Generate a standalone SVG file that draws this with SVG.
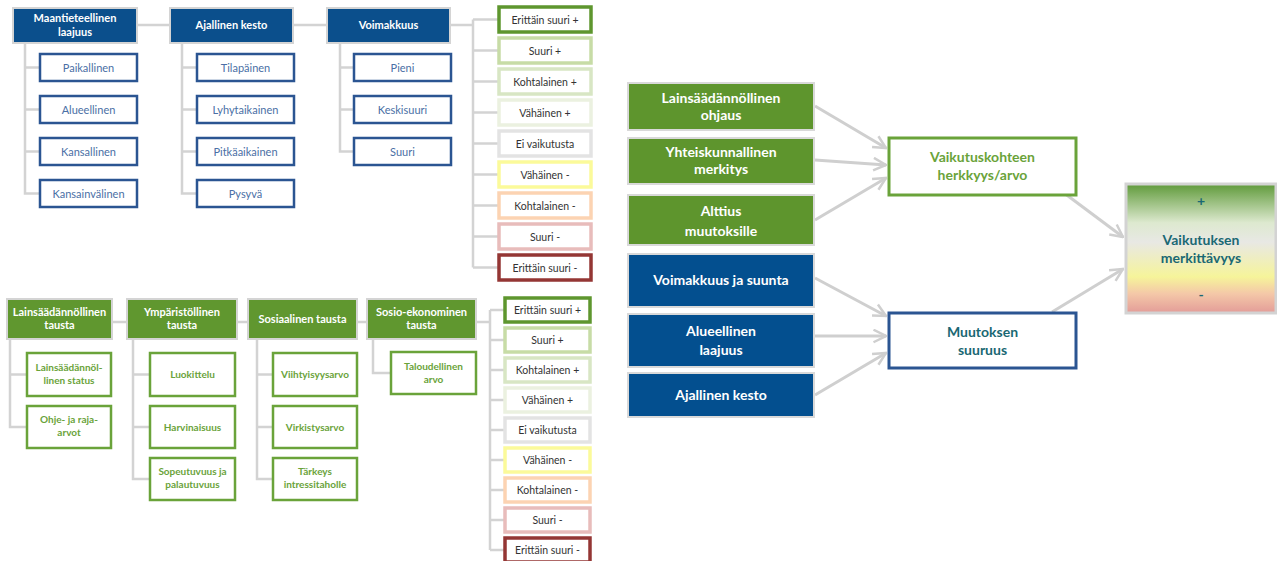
<svg xmlns="http://www.w3.org/2000/svg" width="1277" height="561" viewBox="0 0 1277 561">
<defs>
<style>
text{font-family:Lato,"Open Sans","Liberation Sans",sans-serif;text-anchor:middle}
.hb{fill:#0b4f8c;stroke:#d4d4d4;stroke-width:2}
.cb{fill:#fff;stroke:#2b5592;stroke-width:2.5}
.hg{fill:#60972f;stroke:#d4d4d4;stroke-width:2}
.cg{fill:#fff;stroke:#6aa33a;stroke-width:2.5}
.ht{fill:#fff;font-size:11px;font-weight:bold}
.ct{fill:#4a6fa5;font-size:11px}
.gt{fill:#6aa33a;font-size:10px;font-weight:bold}
.st{fill:#333;font-size:10.5px}
.con{fill:none;stroke:#d3d3d3;stroke-width:2.5}
.s{fill:#fff;stroke-width:3.5}
.rg{fill:#5e952d;stroke:#d9d9d9;stroke-width:2}
.rb{fill:#034f8f;stroke:#d9d9d9;stroke-width:2}
.rt{fill:#fff;font-size:14px;font-weight:bold}
.arr{fill:none;stroke:#cfcfcf;stroke-width:3}
</style>
<marker id="ah" viewBox="0 0 12 12" refX="11" refY="6" markerWidth="5" markerHeight="5" markerUnits="strokeWidth" orient="auto">
<path d="M1,1 L11,6 L1,11" fill="none" stroke="#cfcfcf" stroke-width="2"/>
</marker>
<linearGradient id="grad" x1="0" y1="0" x2="0" y2="1">
<stop offset="0" stop-color="#5f9a3a"/>
<stop offset="0.3" stop-color="#dde9cf"/>
<stop offset="0.45" stop-color="#e8e8e4"/>
<stop offset="0.72" stop-color="#f6f49a"/>
<stop offset="0.85" stop-color="#f4c8a8"/>
<stop offset="1" stop-color="#e39c98"/>
</linearGradient>
</defs>
<g id="connectors">
<path class="con" d="M137,25 H170 M293,25 H327 M450,25 H473 M25,43 V193.5 H40 M25,67.5 H40 M25,109.5 H40 M25,151.5 H40 M182,43 V193.5 H197 M182,67.5 H197 M182,109.5 H197 M182,151.5 H197 M340,43 V151.5 H354 M340,67.5 H354 M340,109.5 H354"/>
<path class="con" d="M473,19.5 V267.5 M473,19.5 H498 M473,50.5 H498 M473,81.5 H498 M473,112.5 H498 M473,143.5 H498 M473,174.5 H498 M473,205.5 H498 M473,236.5 H498 M473,267.5 H498"/>
<path class="con" d="M112,322 H127 M237,322 H248 M357,322 H367 M476,322 H490 M10,339 V427 H27 M10,374.5 H27 M133,339 V479 H150 M133,374.5 H150 M133,427 H150 M257,339 V479 H273 M257,374.5 H273 M257,427 H273 M373,339 V373 H391"/>
<path class="con" d="M490,310 V550 M490,310 H504 M490,340 H504 M490,370 H504 M490,400 H504 M490,430 H504 M490,460 H504 M490,490 H504 M490,520 H504 M490,550 H504"/>
<path class="arr" marker-end="url(#ah)" d="M815,106 L886,148"/>
<path class="arr" marker-end="url(#ah)" d="M815,160 L886,165"/>
<path class="arr" marker-end="url(#ah)" d="M815,220 L886,178"/>
<path class="arr" marker-end="url(#ah)" d="M815,278 L886,316"/>
<path class="arr" marker-end="url(#ah)" d="M815,336 L886,336"/>
<path class="arr" marker-end="url(#ah)" d="M815,395 L886,353"/>
<path class="arr" marker-end="url(#ah)" d="M1052,184 L1123,237"/>
<path class="arr" marker-end="url(#ah)" d="M1052,312 L1123,269"/>
</g>
<g id="n-maant"><rect class="hb" x="13" y="8" width="124" height="35"/><text class="ht" x="75" y="22">Maantieteellinen</text><text class="ht" x="75" y="36">laajuus</text></g>
<g id="n-ajal"><rect class="hb" x="170" y="8" width="123" height="35"/><text class="ht" x="231.5" y="29">Ajallinen kesto</text></g>
<g id="n-voim"><rect class="hb" x="327" y="8" width="123" height="35"/><text class="ht" x="388.5" y="29">Voimakkuus</text></g>
<g id="n-paik"><rect class="cb" x="40" y="54" width="97" height="27"/><text class="ct" x="88.5" y="71.5">Paikallinen</text></g>
<g id="n-alue"><rect class="cb" x="40" y="96" width="97" height="27"/><text class="ct" x="88.5" y="113.5">Alueellinen</text></g>
<g id="n-kans"><rect class="cb" x="40" y="138" width="97" height="27"/><text class="ct" x="88.5" y="155.5">Kansallinen</text></g>
<g id="n-kansv"><rect class="cb" x="40" y="180" width="97" height="27"/><text class="ct" x="88.5" y="197.5">Kansainvälinen</text></g>
<g id="n-tila"><rect class="cb" x="197" y="54" width="97" height="27"/><text class="ct" x="245.5" y="71.5">Tilapäinen</text></g>
<g id="n-lyhy"><rect class="cb" x="197" y="96" width="97" height="27"/><text class="ct" x="245.5" y="113.5">Lyhytaikainen</text></g>
<g id="n-pitk"><rect class="cb" x="197" y="138" width="97" height="27"/><text class="ct" x="245.5" y="155.5">Pitkäaikainen</text></g>
<g id="n-pysy"><rect class="cb" x="197" y="180" width="97" height="27"/><text class="ct" x="245.5" y="197.5">Pysyvä</text></g>
<g id="n-pien"><rect class="cb" x="354" y="54" width="97" height="27"/><text class="ct" x="402.5" y="71.5">Pieni</text></g>
<g id="n-kesk"><rect class="cb" x="354" y="96" width="97" height="27"/><text class="ct" x="402.5" y="113.5">Keskisuuri</text></g>
<g id="n-suur"><rect class="cb" x="354" y="138" width="97" height="27"/><text class="ct" x="402.5" y="155.5">Suuri</text></g>
<g id="scale1">
<g id="s1-1"><rect class="s" x="499" y="7" width="92" height="25" stroke="#5e962e" stroke-width="4.5"/><text class="st" x="545" y="23.5">Erittäin suuri +</text></g>
<g id="s1-2"><rect class="s" x="499" y="38" width="92" height="25" stroke="#c7dca6"/><text class="st" x="545" y="54.5">Suuri +</text></g>
<g id="s1-3"><rect class="s" x="499" y="69" width="92" height="25" stroke="#d8e6c4"/><text class="st" x="545" y="85.5">Kohtalainen +</text></g>
<g id="s1-4"><rect class="s" x="499" y="100" width="92" height="25" stroke="#ebf1e0"/><text class="st" x="545" y="116.5">Vähäinen +</text></g>
<g id="s1-5"><rect class="s" x="499" y="131" width="92" height="25" stroke="#e3e3e3"/><text class="st" x="545" y="147.5">Ei vaikutusta</text></g>
<g id="s1-6"><rect class="s" x="499" y="162" width="92" height="25" stroke="#fbfa9a"/><text class="st" x="545" y="178.5">Vähäinen -</text></g>
<g id="s1-7"><rect class="s" x="499" y="193" width="92" height="25" stroke="#fcd3b2"/><text class="st" x="545" y="209.5">Kohtalainen -</text></g>
<g id="s1-8"><rect class="s" x="499" y="224" width="92" height="25" stroke="#e8bcbb"/><text class="st" x="545" y="240.5">Suuri -</text></g>
<g id="s1-9"><rect class="s" x="499" y="255" width="92" height="25" stroke="#943634" stroke-width="4.5"/><text class="st" x="545" y="271.5">Erittäin suuri -</text></g>
</g>
<g id="n-lains"><rect class="hg" x="7" y="299" width="105" height="40"/><text class="ht" x="59.5" y="316" font-size="10">Lainsäädännöllinen</text><text class="ht" x="59.5" y="329" font-size="10">tausta</text></g>
<g id="n-ymp"><rect class="hg" x="127" y="299" width="110" height="40"/><text class="ht" x="182" y="316" font-size="10">Ympäristöllinen</text><text class="ht" x="182" y="329" font-size="10">tausta</text></g>
<g id="n-sos"><rect class="hg" x="248" y="299" width="109" height="40"/><text class="ht" x="302.5" y="323" font-size="10">Sosiaalinen tausta</text></g>
<g id="n-sosek"><rect class="hg" x="367" y="299" width="109" height="40"/><text class="ht" x="421.5" y="316" font-size="10">Sosio-ekonominen</text><text class="ht" x="421.5" y="329" font-size="10">tausta</text></g>
<g id="n-lstat"><rect class="cg" x="27" y="353" width="84" height="43"/><text class="gt" x="69" y="371">Lainsäädännöl-</text><text class="gt" x="69" y="384">linen status</text></g>
<g id="n-ohje"><rect class="cg" x="27" y="406" width="84" height="42"/><text class="gt" x="69" y="423">Ohje- ja raja-</text><text class="gt" x="69" y="436">arvot</text></g>
<g id="n-luok"><rect class="cg" x="150" y="353" width="85" height="43"/><text class="gt" x="192.5" y="378">Luokittelu</text></g>
<g id="n-harv"><rect class="cg" x="150" y="406" width="85" height="42"/><text class="gt" x="192.5" y="431">Harvinaisuus</text></g>
<g id="n-sope"><rect class="cg" x="150" y="458" width="85" height="42"/><text class="gt" x="192.5" y="475">Sopeutuvuus ja</text><text class="gt" x="192.5" y="488">palautuvuus</text></g>
<g id="n-viih"><rect class="cg" x="273" y="353" width="84" height="43"/><text class="gt" x="315" y="378">Viihtyisyysarvo</text></g>
<g id="n-virk"><rect class="cg" x="273" y="406" width="84" height="42"/><text class="gt" x="315" y="431">Virkistysarvo</text></g>
<g id="n-tark"><rect class="cg" x="273" y="458" width="84" height="42"/><text class="gt" x="315" y="475">Tärkeys</text><text class="gt" x="315" y="488">intressitaholle</text></g>
<g id="n-talo"><rect class="cg" x="391" y="352" width="85" height="42"/><text class="gt" x="433.5" y="370">Taloudellinen</text><text class="gt" x="433.5" y="383">arvo</text></g>
<g id="scale2">
<g id="s2-1"><rect class="s" x="505" y="298" width="85" height="24" stroke="#5e962e" stroke-width="4.5"/><text class="st" x="547.5" y="313.5" font-size="10">Erittäin suuri +</text></g>
<g id="s2-2"><rect class="s" x="505" y="328" width="85" height="24" stroke="#c7dca6"/><text class="st" x="547.5" y="343.5" font-size="10">Suuri +</text></g>
<g id="s2-3"><rect class="s" x="505" y="358" width="85" height="24" stroke="#d8e6c4"/><text class="st" x="547.5" y="373.5" font-size="10">Kohtalainen +</text></g>
<g id="s2-4"><rect class="s" x="505" y="388" width="85" height="24" stroke="#ebf1e0"/><text class="st" x="547.5" y="403.5" font-size="10">Vähäinen +</text></g>
<g id="s2-5"><rect class="s" x="505" y="418" width="85" height="24" stroke="#e3e3e3"/><text class="st" x="547.5" y="433.5" font-size="10">Ei vaikutusta</text></g>
<g id="s2-6"><rect class="s" x="505" y="448" width="85" height="24" stroke="#fbfa9a"/><text class="st" x="547.5" y="463.5" font-size="10">Vähäinen -</text></g>
<g id="s2-7"><rect class="s" x="505" y="478" width="85" height="24" stroke="#fcd3b2"/><text class="st" x="547.5" y="493.5" font-size="10">Kohtalainen -</text></g>
<g id="s2-8"><rect class="s" x="505" y="508" width="85" height="24" stroke="#e8bcbb"/><text class="st" x="547.5" y="523.5" font-size="10">Suuri -</text></g>
<g id="s2-9"><rect class="s" x="505" y="538" width="85" height="24" stroke="#943634" stroke-width="4.5"/><text class="st" x="547.5" y="553.5" font-size="10">Erittäin suuri -</text></g>
</g>
<g id="r-lains"><rect class="rg" x="628" y="83" width="186" height="47"/><text class="rt" x="721" y="103">Lainsäädännöllinen</text><text class="rt" x="721" y="120">ohjaus</text></g>
<g id="r-yht"><rect class="rg" x="628" y="138" width="186" height="46"/><text class="rt" x="721" y="157">Yhteiskunnallinen</text><text class="rt" x="721" y="174">merkitys</text></g>
<g id="r-alt"><rect class="rg" x="628" y="195" width="186" height="50"/><text class="rt" x="721" y="216">Alttius</text><text class="rt" x="721" y="236">muutoksille</text></g>
<g id="r-voim"><rect class="rb" x="628" y="254" width="186" height="53"/><text class="rt" x="721" y="285">Voimakkuus ja suunta</text></g>
<g id="r-alue"><rect class="rb" x="628" y="314" width="186" height="53"/><text class="rt" x="721" y="336">Alueellinen</text><text class="rt" x="721" y="355">laajuus</text></g>
<g id="r-ajal"><rect class="rb" x="628" y="373" width="186" height="44"/><text class="rt" x="721" y="400">Ajallinen kesto</text></g>
<g id="r-herk"><rect x="889" y="138" width="187" height="57" fill="#fff" stroke="#6aa33a" stroke-width="3"/><text class="rt" x="982.5" y="162" fill="#6aa33a" style="fill:#6aa33a">Vaikutuskohteen</text><text class="rt" x="982.5" y="180" style="fill:#6aa33a">herkkyys/arvo</text></g>
<g id="r-muut"><rect x="889" y="313" width="187" height="55" fill="#fff" stroke="#2b5592" stroke-width="3"/><text class="rt" x="982.5" y="337" style="fill:#1a6873">Muutoksen</text><text class="rt" x="982.5" y="355" style="fill:#1a6873">suuruus</text></g>
<g id="r-merk"><rect x="1126" y="184" width="150" height="129" fill="url(#grad)" stroke="#d3d3d3" stroke-width="3"/><text class="rt" x="1201" y="206" style="fill:#1a6873">+</text><text class="rt" x="1201" y="245" style="fill:#1a6873">Vaikutuksen</text><text class="rt" x="1201" y="263" style="fill:#1a6873">merkittävyys</text><text class="rt" x="1201" y="300" style="fill:#1a6873">-</text></g>
</svg>
